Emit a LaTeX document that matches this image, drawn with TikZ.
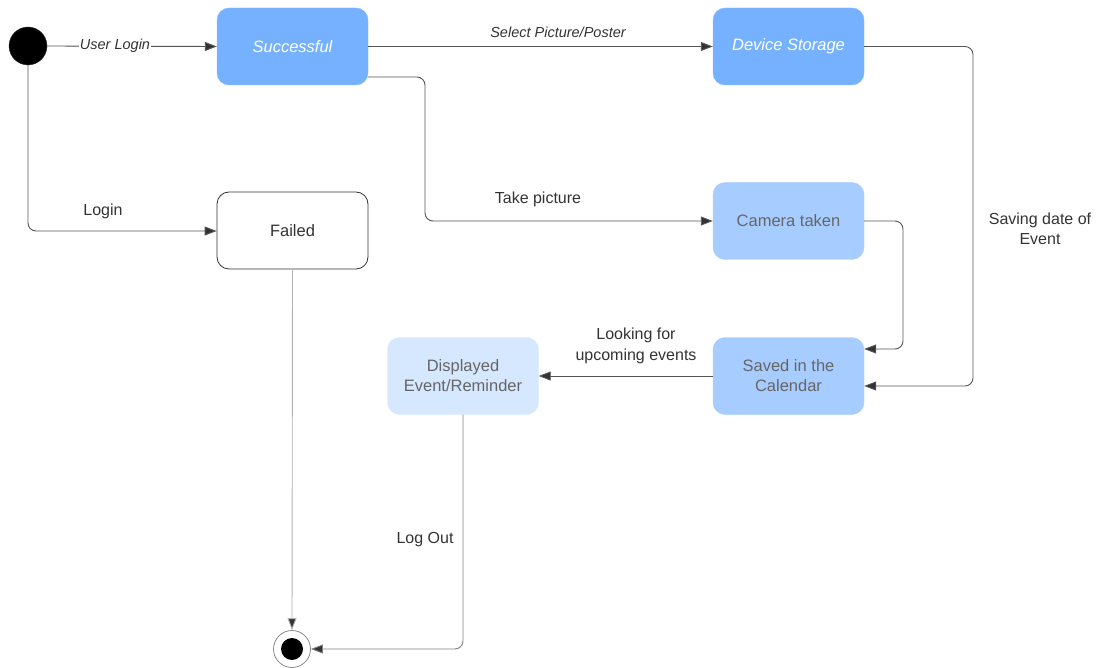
\documentclass[tikz,border=0pt]{standalone}
\usepackage{fontspec}
\setmainfont{Liberation Sans}
\usetikzlibrary{arrows.meta}
\definecolor{bluedark}{HTML}{76B1FF}
\definecolor{bluemid}{HTML}{A7CCFF}
\definecolor{bluelight}{HTML}{D6E8FF}
\definecolor{linec}{HTML}{555555}
\definecolor{txtc}{HTML}{333333}
\definecolor{boxtxt}{HTML}{666666}
\tikzset{
  statebox/.style={rounded corners=12pt, minimum width=151pt, minimum height=77pt, inner sep=2pt, align=center, font=\fontsize{16.5}{20}\selectfont},
  darkbox/.style={statebox, fill=bluedark, draw=bluedark!90!white, text=white, font=\fontsize{16.5}{20}\selectfont\itshape},
  midbox/.style={statebox, fill=bluemid, draw=bluemid, text=boxtxt},
  lightbox/.style={statebox, fill=bluelight, draw=bluelight, text=boxtxt},
  whitebox/.style={statebox, fill=white, draw=txtc, line width=0.8pt, text=txtc},
  conn/.style={draw=linec, line width=0.9pt, rounded corners=8pt, -{Triangle[length=12pt,width=9pt,fill=txtc]}},
  lbl/.style={text=txtc, font=\fontsize{16}{20}\selectfont, align=center},
  ilbl/.style={text=txtc, font=\fontsize{14.5}{18}\selectfont\itshape, align=center},
}
\begin{document}
\begin{tikzpicture}[x=1pt,y=-1pt]
\useasboundingbox (0,0) rectangle (1100,668);
% nodes
\node[circle, fill=black, draw=black!80, minimum size=38pt, inner sep=0pt] (start) at (28,46) {};
\node[darkbox] (succ) at (292.5,46.5) {Successful};
\node[darkbox] (dev) at (788.5,46.5) {Device Storage};
\node[whitebox] (fail) at (292.5,230.5) {Failed};
\node[midbox] (cam) at (788.5,221) {Camera taken};
\node[midbox] (cal) at (788.5,376) {Saved in the\\Calendar};
\node[lightbox] (disp) at (463,376) {Displayed\\Event/Reminder};
\node[circle, draw=black!45, fill=white, line width=0.8pt, minimum size=37pt, inner sep=0pt] (end) at (292,649) {};
\node[circle, fill=black, minimum size=22pt, inner sep=0pt] (endin) at (end.center) {};
% connectors
\draw[conn] (start.east) -- (succ.west);
\node[ilbl, fill=white, inner sep=1pt] (ul) at (115,46) {User Login};
\draw[conn] (succ.east) -- (dev.west);
\node[ilbl] (sp) at (558,32) {Select Picture/Poster};
\draw[conn] ([yshift=-30.5pt]succ.east) -| (425,221) -- (cam.west);
\node[lbl] (tp) at (538,199) {Take picture};
\draw[conn] (start.south) |- ([yshift=-0.5pt]fail.west);
\node[lbl] (lg) at (103,211) {Login};
\draw[conn] (dev.east) -| (973,386) -- ([yshift=-10pt]cal.east);
\node[lbl] (sd) at (1040,229) {Saving date of\\Event};
\draw[conn] (cam.east) -| (903,349) -- ([yshift=27pt]cal.east);
\draw[conn] (cal.west) -- (disp.east);
\node[lbl, font=\fontsize{16}{21}\selectfont] (lf) at (636,346) {Looking for\\upcoming events};
\draw[conn, draw=black!50] (disp.south) |- (end.east);
\node[lbl] (lo) at (425,540) {Log Out};
\draw[conn, draw=black!30] (fail.south) -- (end.north);
\end{tikzpicture}
\end{document}
